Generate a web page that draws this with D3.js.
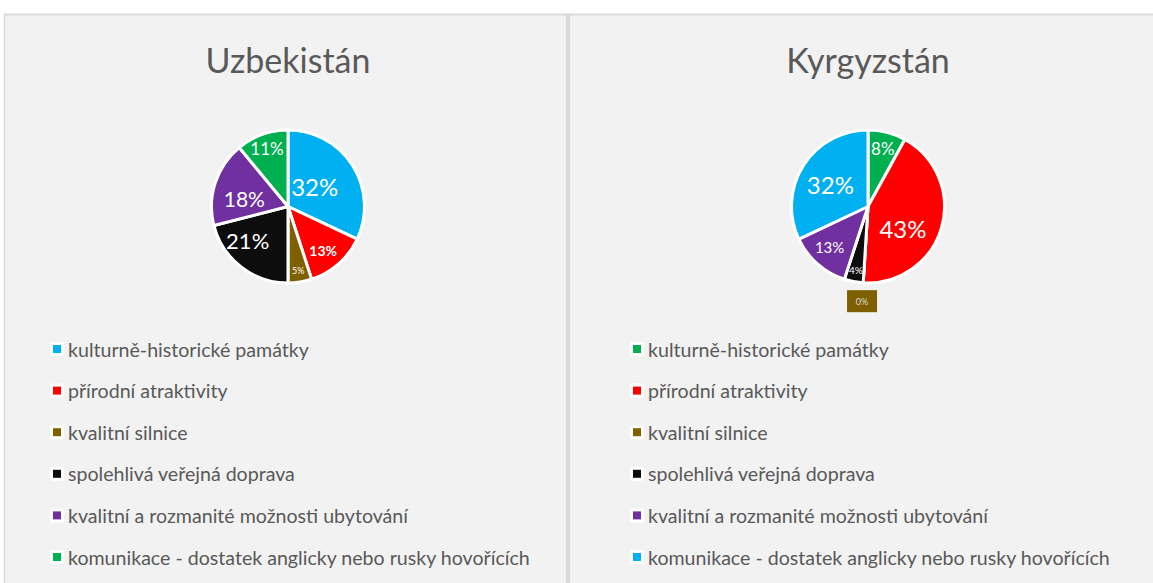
<!DOCTYPE html>
<html><head><meta charset="utf-8">
<script src="https://cdn.jsdelivr.net/npm/d3@7"></script>
<style>body{margin:0;background:#fff;} svg{display:block}</style>
</head><body>
<svg id="c" width="1153" height="583"></svg>
<script>
// ---- data ----
const categories = [
  "kulturně-historické památky",
  "přírodní atraktivity",
  "kvalitní silnice",
  "spolehlivá veřejná doprava",
  "kvalitní a rozmanité možnosti ubytování",
  "komunikace - dostatek anglicky nebo rusky hovořících"
];
const chartTitles = ["Uzbekistán", "Kyrgyzstán"];
const uzbekistanValues = [32, 13, 5, 21, 18, 11];
const kyrgyzstanValues = [8, 43, 0, 4, 13, 32];
const uzbekistanColors = ["#00b0f0", "#ff0000", "#7f6000", "#0d0d0d", "#7030a0", "#00b050"];
const kyrgyzstanColors = ["#00b050", "#ff0000", "#7f6000", "#0d0d0d", "#7030a0", "#00b0f0"];

// ---- styling / layout (label font sizes, radial fraction and angle nudge per slice) ----
const uzbekistanLabelStyle = [
  {fs: 24, r: 0.44, da: -5}, {fs: 14, r: 0.74, da: 3, bold: true}, {fs: 9, r: 0.85, da: 0},
  {fs: 22, r: 0.69, da: 12}, {fs: 21, r: 0.58, da: -8}, {fs: 17, r: 0.81, da: 0}
];
const kyrgyzstanLabelStyle = [
  {fs: 17, r: 0.78, da: 0}, {fs: 24, r: 0.54, da: 16}, {fs: 9, r: 1.24, da: 0},
  {fs: 10, r: 0.84, da: 0}, {fs: 15, r: 0.73, da: 2}, {fs: 24, r: 0.57, da: -2}
];
const FONT = "Lato, 'Open Sans', sans-serif";
const panels = [
  {title: chartTitles[0], values: uzbekistanValues, colors: uzbekistanColors, offset: 0, ls: uzbekistanLabelStyle},
  {title: chartTitles[1], values: kyrgyzstanValues, colors: kyrgyzstanColors, offset: 580, ls: kyrgyzstanLabelStyle}
];
const svg = d3.select("#c");
const W = 1153, H = 583;

// background and borders
svg.append("rect").attr("x", 0).attr("y", 0).attr("width", W).attr("height", H).attr("fill", "#ffffff");
svg.append("rect").attr("x", 4).attr("y", 14).attr("width", W - 4).attr("height", H - 14)
  .attr("fill", "#f2f2f2");
svg.append("line").attr("x1", 4).attr("x2", W).attr("y1", 14.5).attr("y2", 14.5)
  .attr("stroke", "#d9d9d9").attr("stroke-width", 2);
svg.append("line").attr("x1", 4.5).attr("x2", 4.5).attr("y1", 14).attr("y2", H)
  .attr("stroke", "#d9d9d9").attr("stroke-width", 1.5);
svg.append("rect").attr("x", 566).attr("y", 14).attr("width", 4).attr("height", H - 14)
  .attr("fill", "#d9d9d9");

const cx0 = 288, cy = 206.5, R = 76.5;
const pie = d3.pie().sort(null).value(d => d);
const arc = d3.arc().innerRadius(0).outerRadius(R);

panels.forEach(p => {
  const g = svg.append("g").attr("transform", `translate(${p.offset},0)`);
  g.append("text").attr("x", cx0).attr("y", 73).attr("text-anchor", "middle")
    .attr("font-family", FONT).attr("font-size", 34).attr("fill", "#595959")
    .text(p.title);

  const pg = g.append("g").attr("transform", `translate(${cx0},${cy})`);
  const arcs = pie(p.values);
  pg.selectAll("path").data(arcs).join("path")
    .attr("d", arc)
    .attr("fill", (d, i) => p.colors[i])
    .attr("stroke", "#ffffff").attr("stroke-width", 3).attr("stroke-linejoin", "round");

  arcs.forEach((d, i) => {
    const v = d.data;
    const st = p.ls[i];
    const mid = (d.startAngle + d.endAngle) / 2 + st.da * Math.PI / 180;
    const label = v + "%";
    const rl = R * st.r;
    const x = Math.sin(mid) * rl, y = -Math.cos(mid) * rl;
    if (v === 0) {
      pg.append("rect").attr("x", x - 15).attr("y", y - 11).attr("width", 30).attr("height", 22)
        .attr("fill", p.colors[i]);
      pg.append("text").attr("x", x).attr("y", y).attr("text-anchor", "middle")
        .attr("dominant-baseline", "central").attr("font-family", FONT)
        .attr("font-size", st.fs).attr("fill", "#d9d9d9").text(label);
      return;
    }
    pg.append("text").attr("x", x).attr("y", y).attr("text-anchor", "middle")
      .attr("dominant-baseline", "central").attr("font-family", FONT)
      .attr("font-size", st.fs).attr("font-weight", st.bold ? "bold" : "normal")
      .attr("fill", "#ffffff").text(label);
  });

  // legend
  const ly = d3.scalePoint().domain(categories).range([349, 557]);
  const lg = g.append("g");
  categories.forEach((c, i) => {
    const y = ly(c);
    lg.append("rect").attr("x", 50).attr("y", y - 7).attr("width", 14).attr("height", 14)
      .attr("rx", 2).attr("fill", "#ffffff");
    lg.append("rect").attr("x", 53).attr("y", y - 4).attr("width", 8).attr("height", 8)
      .attr("fill", p.colors[i]);
    lg.append("text").attr("x", 68).attr("y", y).attr("dominant-baseline", "central")
      .attr("font-family", FONT).attr("font-size", 19.6).attr("fill", "#595959").text(c);
  });
});
</script>
</body></html>
